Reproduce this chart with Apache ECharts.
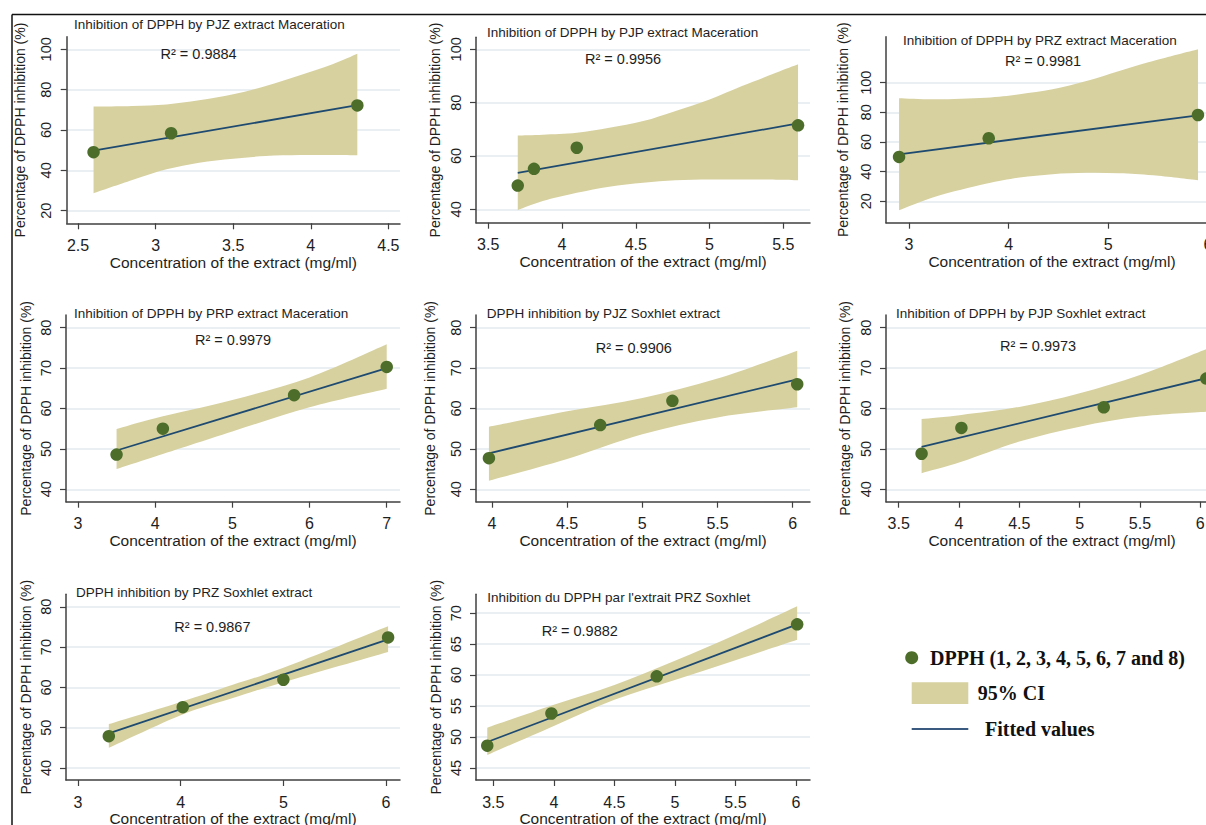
<!DOCTYPE html>
<html>
<head>
<meta charset="utf-8">
<script src="https://cdn.jsdelivr.net/npm/echarts@6/dist/echarts.min.js"></script>
<style>
html,body{margin:0;padding:0;background:#fff;}
#chart{width:1206px;height:825px;}
</style>
</head>
<body>
<div id="chart"></div>
<script>
// ---------------- DATA ----------------
const panelTitles = [
  'Inhibition of DPPH by PJZ extract Maceration',
  'Inhibition of DPPH by PJP extract Maceration',
  'Inhibition of DPPH by PRZ extract Maceration',
  'Inhibition of DPPH by PRP extract Maceration',
  'DPPH inhibition by PJZ Soxhlet extract',
  'Inhibition of DPPH by PJP Soxhlet extract',
  'DPPH inhibition by PRZ Soxhlet extract',
  "Inhibition du DPPH par l'extrait PRZ Soxhlet"
];
const r2Labels = ['R² = 0.9884','R² = 0.9956','R² = 0.9981','R² = 0.9979','R² = 0.9906','R² = 0.9973','R² = 0.9867','R² = 0.9882'];
const xAxisTitle = 'Concentration of the extract (mg/ml)';
const yAxisTitle = 'Percentage of DPPH inhibition (%)';
const legendPoints = 'DPPH (1, 2, 3, 4, 5, 6, 7 and 8)';
const legendCI = '95% CI';
const legendFit = 'Fitted values';

// Panel 1 - PJZ maceration
const p1X = [2.6, 3.1, 4.3];
const p1Y = [49.0, 58.4, 72.2];
const p1FitX = [2.6, 4.3];
const p1FitY = [49.8, 72.3];
const p1CiX = [2.6, 2.85, 3.07, 3.28, 3.5, 3.71, 3.93, 4.14, 4.3];
const p1CiHigh = [71.6, 71.9, 72.7, 74.7, 77.7, 81.8, 87.1, 92.6, 97.8];
const p1CiLow = [28.6, 35.2, 40.5, 43.8, 45.8, 47.1, 47.6, 47.6, 47.5];
const p1XTicks = [2.5, 3, 3.5, 4, 4.5];
const p1YTicks = [20, 40, 60, 80, 100];

// Panel 2 - PJP maceration
const p2X = [3.7, 3.81, 4.1, 5.6];
const p2Y = [48.9, 55.2, 63.1, 71.5];
const p2FitX = [3.7, 5.6];
const p2FitY = [53.7, 72.2];
const p2CiX = [3.7, 3.87, 4.1, 4.32, 4.55, 4.77, 5.0, 5.22, 5.45, 5.6];
const p2CiHigh = [67.7, 68.0, 68.7, 70.6, 73.1, 76.9, 81.2, 86.2, 91.2, 94.4];
const p2CiLow = [39.7, 43.1, 46.2, 48.5, 50.0, 50.9, 51.2, 51.2, 51.1, 50.9];
const p2XTicks = [3.5, 4, 4.5, 5, 5.5];
const p2YTicks = [40, 60, 80, 100];

// Panel 3 - PRZ maceration
const p3X = [2.9, 3.8, 5.9];
const p3Y = [49.9, 62.5, 78.2];
const p3FitX = [2.9, 5.9];
const p3FitY = [51.7, 78.0];
const p3CiX = [2.9, 3.27, 3.77, 4.11, 4.44, 4.78, 5.11, 5.45, 5.9];
const p3CiHigh = [89.5, 88.8, 89.9, 92.2, 95.5, 101.1, 107.9, 114.6, 122.5];
const p3CiLow = [13.9, 23.2, 31.8, 36.0, 38.3, 39.2, 38.9, 37.5, 34.2];
const p3XTicks = [3, 4, 5, 6];
const p3YTicks = [20, 40, 60, 80, 100];

// Panel 4 - PRP maceration
const p4X = [3.5, 4.1, 5.8, 7.0];
const p4Y = [48.6, 55.0, 63.3, 70.3];
const p4FitX = [3.5, 7.0];
const p4FitY = [49.6, 70.0];
const p4CiX = [3.5, 4.0, 5.0, 6.0, 7.0];
const p4CiHigh = [54.9, 57.6, 62.1, 67.7, 75.9];
const p4CiLow = [45.0, 48.1, 54.3, 60.3, 64.9];
const p4XTicks = [3, 4, 5, 6, 7];
const p4YTicks = [40, 50, 60, 70, 80];

// Panel 5 - PJZ Soxhlet
const p5X = [3.98, 4.72, 5.2, 6.03];
const p5Y = [47.7, 55.9, 61.9, 66.0];
const p5FitX = [3.98, 6.03];
const p5FitY = [48.9, 67.2];
const p5CiX = [3.98, 4.5, 5.0, 5.5, 6.03];
const p5CiHigh = [55.5, 59.3, 62.6, 67.4, 74.3];
const p5CiLow = [42.1, 47.5, 53.6, 57.8, 60.3];
const p5XTicks = [4, 4.5, 5, 5.5, 6];
const p5YTicks = [40, 50, 60, 70, 80];

// Panel 6 - PJP Soxhlet
const p6X = [3.69, 4.02, 5.2, 6.05];
const p6Y = [48.8, 55.2, 60.3, 67.4];
const p6FitX = [3.69, 6.05];
const p6FitY = [50.5, 67.5];
const p6CiX = [3.69, 4.02, 4.5, 5.0, 5.5, 6.05];
const p6CiHigh = [57.4, 58.4, 60.4, 63.8, 68.3, 74.7];
const p6CiLow = [44.0, 46.8, 51.8, 55.5, 58.0, 59.2];
const p6XTicks = [3.5, 4, 4.5, 5, 5.5, 6];
const p6YTicks = [40, 50, 60, 70, 80];

// Panel 7 - PRZ Soxhlet
const p7X = [3.3, 4.02, 5.0, 6.02];
const p7Y = [47.9, 55.1, 61.9, 72.4];
const p7FitX = [3.3, 6.02];
const p7FitY = [48.6, 71.9];
const p7CiX = [3.3, 4.0, 4.5, 5.0, 6.02];
const p7CiHigh = [50.9, 56.4, 60.6, 64.9, 75.2];
const p7CiLow = [45.0, 53.1, 57.3, 61.3, 68.8];
const p7XTicks = [3, 4, 5, 6];
const p7YTicks = [40, 50, 60, 70, 80];

// Panel 8 - PRZ Soxhlet (French title)
const p8X = [3.45, 3.98, 4.85, 6.01];
const p8Y = [48.6, 53.8, 59.8, 68.2];
const p8FitX = [3.45, 6.01];
const p8FitY = [49.2, 68.2];
const p8CiX = [3.45, 4.0, 4.5, 5.0, 5.5, 6.01];
const p8CiHigh = [51.5, 55.2, 58.4, 62.3, 66.5, 71.1];
const p8CiLow = [47.1, 51.8, 56.0, 59.2, 62.4, 65.7];
const p8XTicks = [3.5, 4, 4.5, 5, 5.5, 6];
const p8YTicks = [45, 50, 55, 60, 65, 70];

// ---------------- LAYOUT / STYLE ----------------
const panels = [
  {x:p1X,y:p1Y,fx:p1FitX,fy:p1FitY,cx:p1CiX,ch:p1CiHigh,cl:p1CiLow,xt:p1XTicks,yt:p1YTicks},
  {x:p2X,y:p2Y,fx:p2FitX,fy:p2FitY,cx:p2CiX,ch:p2CiHigh,cl:p2CiLow,xt:p2XTicks,yt:p2YTicks},
  {x:p3X,y:p3Y,fx:p3FitX,fy:p3FitY,cx:p3CiX,ch:p3CiHigh,cl:p3CiLow,xt:p3XTicks,yt:p3YTicks},
  {x:p4X,y:p4Y,fx:p4FitX,fy:p4FitY,cx:p4CiX,ch:p4CiHigh,cl:p4CiLow,xt:p4XTicks,yt:p4YTicks},
  {x:p5X,y:p5Y,fx:p5FitX,fy:p5FitY,cx:p5CiX,ch:p5CiHigh,cl:p5CiLow,xt:p5XTicks,yt:p5YTicks},
  {x:p6X,y:p6Y,fx:p6FitX,fy:p6FitY,cx:p6CiX,ch:p6CiHigh,cl:p6CiLow,xt:p6XTicks,yt:p6YTicks},
  {x:p7X,y:p7Y,fx:p7FitX,fy:p7FitY,cx:p7CiX,ch:p7CiHigh,cl:p7CiLow,xt:p7XTicks,yt:p7YTicks},
  {x:p8X,y:p8Y,fx:p8FitX,fy:p8FitY,cx:p8CiX,ch:p8CiHigh,cl:p8CiLow,xt:p8XTicks,yt:p8YTicks}
];
// grid boxes [left, top, width, height], axis ranges, y-name gap, title pos, R2 pos
const layout = [
  {g:[66.7,36.7,333.3,186.6], xr:[2.427,4.575], yr:[13.75,106.25], yGap:40, t:[74,24],    r:[160.5,54.3]},
  {g:[476,37.3,334,185.4],    xr:[3.417,5.681], yr:[35.0,104.5],  yGap:34, t:[487,32.7],  r:[585,58.8]},
  {g:[886,36.7,332,186],      xr:[2.769,6.101], yr:[5.56,131.0],  yGap:36, t:[903,40],    r:[1005,61]},
  {g:[66,315,334,186.7],      xr:[2.845,7.172], yr:[36.93,83.14], yGap:33, t:[74,313.3],  r:[195,340]},
  {g:[476,315,334,186.7],     xr:[3.894,6.115], yr:[36.93,83.14], yGap:39, t:[486.7,313], r:[595.7,348.3]},
  {g:[886,315,332,186.7],     xr:[3.395,6.147], yr:[36.93,83.14], yGap:34, t:[896,313.3], r:[1000,345.7]},
  {g:[66,594.3,334,185.7],    xr:[2.883,6.136], yr:[37.02,83.10], yGap:33, t:[76,592.7],  r:[174.3,627.3]},
  {g:[476,594.3,334,185.7],   xr:[3.357,6.116], yr:[43.06,73.05], yGap:33, t:[487.3,597.7],r:[541.7,630.7]}
];

const FONT = '"Liberation Sans", Arial, sans-serif';
const SERIF = '"Liberation Serif", "Times New Roman", serif';
const BAND = '#d7d1a0';
const PT = '#4c6e2a';
const LINE = '#1e4a70';
const GRIDC = '#e2eaef';
const AXISC = '#404040';
const TXT = '#1e1e1e';

function curve(p) {
  let s = '';
  const n = p.length;
  for (let i = 0; i < n - 1; i++) {
    const p0 = p[Math.max(i - 1, 0)], p1 = p[i], p2 = p[i + 1], p3 = p[Math.min(i + 2, n - 1)];
    const c1 = [p1[0] + (p2[0] - p0[0]) / 6, p1[1] + (p2[1] - p0[1]) / 6];
    const c2 = [p2[0] - (p3[0] - p1[0]) / 6, p2[1] - (p3[1] - p1[1]) / 6];
    s += ' C' + c1[0] + ' ' + c1[1] + ' ' + c2[0] + ' ' + c2[1] + ' ' + p2[0] + ' ' + p2[1];
  }
  return s;
}

const grids = [], xAxes = [], yAxes = [], series = [], graphics = [];
panels.forEach((d, i) => {
  const L = layout[i];
  grids.push({left: L.g[0], top: L.g[1], width: L.g[2], height: L.g[3], containLabel: false, outerBoundsMode: 'none'});
  xAxes.push({
    type: 'value', gridIndex: i, min: L.xr[0], max: L.xr[1],
    axisLine: {show: true, onZero: false, lineStyle: {color: AXISC, width: 1.5}},
    axisTick: {show: true, customValues: d.xt, length: 6, lineStyle: {color: AXISC, width: 1.2}},
    axisLabel: {show: true, customValues: d.xt, formatter: v => String(v), fontSize: 16, color: TXT, fontFamily: FONT, margin: 14},
    splitLine: {show: false},
    name: xAxisTitle, nameLocation: 'middle', nameGap: 30,
    nameTextStyle: {fontSize: 15.5, color: TXT, fontFamily: FONT}
  });
  yAxes.push({
    type: 'value', gridIndex: i, min: L.yr[0], max: L.yr[1],
    axisLine: {show: true, onZero: false, lineStyle: {color: AXISC, width: 1.5}},
    axisTick: {show: true, customValues: d.yt, length: 6, lineStyle: {color: AXISC, width: 1.2}},
    axisLabel: {show: true, customValues: d.yt, formatter: v => String(v), rotate: 90, fontSize: 14.5, color: TXT, fontFamily: FONT, margin: 13},
    splitLine: {show: true, lineStyle: {color: GRIDC, width: 1.5}},
    name: yAxisTitle, nameLocation: 'middle', nameGap: L.yGap,
    nameTextStyle: {fontSize: 14, color: TXT, fontFamily: FONT}
  });
  // 95% CI band (custom polygon through axis scales)
  series.push({
    type: 'custom', name: legendCI, xAxisIndex: i, yAxisIndex: i, silent: true, z: 1,
    data: d.cx.map((x, k) => [x, d.cl[k], d.ch[k]]),
    encode: {x: 0, y: [1, 2]},
    renderItem: function (params, api) {
      if (params.dataIndex !== 0) return null;
      const up = d.cx.map((x, k) => api.coord([x, d.ch[k]]));
      const lo = d.cx.map((x, k) => api.coord([x, d.cl[k]])).reverse();
      const path = 'M' + up[0][0] + ' ' + up[0][1] + curve(up) +
                   ' L' + lo[0][0] + ' ' + lo[0][1] + curve(lo) + ' Z';
      return {type: 'path', shape: {pathData: path}, style: {fill: BAND}, silent: true};
    }
  });
  // Fitted line
  series.push({
    type: 'line', name: legendFit, xAxisIndex: i, yAxisIndex: i, z: 3, silent: true,
    data: d.fx.map((x, k) => [x, d.fy[k]]),
    symbol: 'none', lineStyle: {color: LINE, width: 1.8}
  });
  // Observed points
  series.push({
    type: 'scatter', name: legendPoints, xAxisIndex: i, yAxisIndex: i, z: 4, silent: true,
    data: d.x.map((x, k) => [x, d.y[k]]),
    symbol: 'circle', symbolSize: 12.5, itemStyle: {color: PT, opacity: 1}
  });
  graphics.push({type: 'text', z: 10, style: {text: panelTitles[i], x: L.t[0], y: L.t[1], font: '13.5px ' + FONT, fill: TXT, align: 'left', verticalAlign: 'middle'}});
  graphics.push({type: 'text', z: 10, style: {text: r2Labels[i], x: L.r[0], y: L.r[1], font: '14.5px ' + FONT, fill: TXT, align: 'left', verticalAlign: 'middle'}});
});

// frame lines
graphics.push({type: 'line', z: 10, shape: {x1: 12, y1: 14.5, x2: 1206, y2: 14.5}, style: {stroke: '#111', lineWidth: 1.5}});
graphics.push({type: 'line', z: 10, shape: {x1: 12, y1: 14.5, x2: 12, y2: 825}, style: {stroke: '#111', lineWidth: 1.5}});
// legend
graphics.push({type: 'circle', z: 10, shape: {cx: 911.7, cy: 657.7, r: 6.5}, style: {fill: PT}});
graphics.push({type: 'text', z: 10, style: {text: legendPoints, x: 930, y: 657.7, font: 'bold 20px ' + SERIF, fill: '#111', align: 'left', verticalAlign: 'middle'}});
graphics.push({type: 'rect', z: 10, shape: {x: 911.7, y: 682.3, width: 56.6, height: 21.7}, style: {fill: BAND}});
graphics.push({type: 'text', z: 10, style: {text: legendCI, x: 977.7, y: 693.3, font: 'bold 20px ' + SERIF, fill: '#111', align: 'left', verticalAlign: 'middle'}});
graphics.push({type: 'line', z: 10, shape: {x1: 911.7, y1: 729, x2: 968.3, y2: 729}, style: {stroke: '#3a5a80', lineWidth: 2}});
graphics.push({type: 'text', z: 10, style: {text: legendFit, x: 985, y: 729.3, font: 'bold 20px ' + SERIF, fill: '#111', align: 'left', verticalAlign: 'middle'}});

const chart = echarts.init(document.getElementById('chart'), null, {renderer: 'svg', width: 1206, height: 825});
chart.setOption({
  animation: false,
  backgroundColor: '#ffffff',
  grid: grids,
  xAxis: xAxes,
  yAxis: yAxes,
  series: series,
  graphic: graphics
});
</script>
</body>
</html>
